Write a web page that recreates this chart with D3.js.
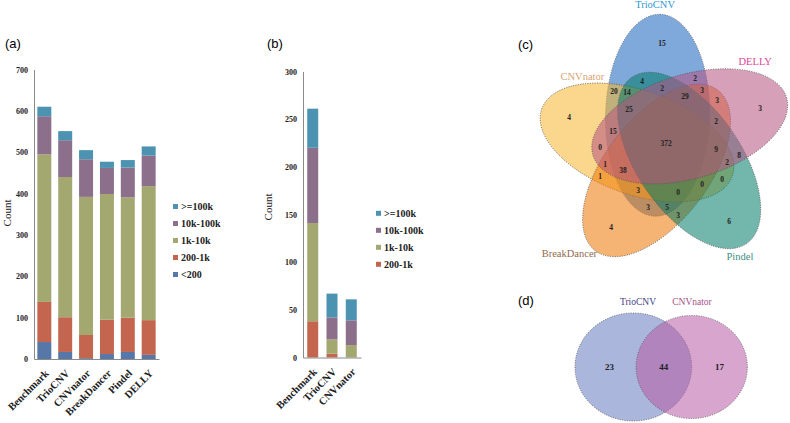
<!DOCTYPE html>
<html>
<head>
<meta charset="utf-8">
<script src="https://cdn.jsdelivr.net/npm/d3@7"></script>
<style>
  body { margin: 0; background: #fff; }
  svg text { font-family: "Liberation Serif", "Times New Roman", serif; }
  .plabel { font-family: "Liberation Sans", Arial, sans-serif; font-size: 13px; }
</style>
</head>
<body>
<svg id="chart" width="790" height="423"></svg>
<script>
// ---------- data: panel (a) ----------
const toolsA = ['Benchmark', 'TrioCNV', 'CNVnator', 'BreakDancer', 'Pindel', 'DELLY'];
const lt200A     = [41, 17, 2, 12, 17, 10];
const s200to1kA  = [97, 84, 56, 83, 83, 84];
const s1kto10kA  = [357, 339, 334, 304, 291, 324];
const s10kto100kA = [92, 89, 91, 63, 72, 74];
const ge100kA    = [23, 22, 22, 15, 18, 22];

// ---------- data: panel (b) ----------
const toolsB = ['Benchmark', 'TrioCNV', 'CNVnator'];
const s200to1kB  = [38, 4, 0];
const s1kto10kB  = [103, 15, 13];
const s10kto100kB = [79, 23, 26];
const ge100kB    = [41, 25, 22];

// ---------- data: panel (c), five-set Venn ----------
const vennSets5 = ['TrioCNV', 'DELLY', 'Pindel', 'BreakDancer', 'CNVnator'];
const vennRegions5 = [
  'TrioCNV', 'DELLY', 'Pindel', 'BreakDancer', 'CNVnator',
  'TrioCNV&DELLY', 'TrioCNV&Pindel', 'TrioCNV&BreakDancer', 'TrioCNV&CNVnator',
  'DELLY&Pindel', 'DELLY&BreakDancer', 'DELLY&CNVnator',
  'Pindel&BreakDancer', 'Pindel&CNVnator', 'BreakDancer&CNVnator',
  'TrioCNV&DELLY&Pindel', 'TrioCNV&DELLY&BreakDancer', 'TrioCNV&DELLY&CNVnator',
  'TrioCNV&Pindel&BreakDancer', 'TrioCNV&Pindel&CNVnator', 'TrioCNV&BreakDancer&CNVnator',
  'DELLY&Pindel&BreakDancer', 'DELLY&Pindel&CNVnator', 'DELLY&BreakDancer&CNVnator',
  'Pindel&BreakDancer&CNVnator',
  'TrioCNV&DELLY&Pindel&BreakDancer', 'TrioCNV&DELLY&Pindel&CNVnator',
  'TrioCNV&DELLY&BreakDancer&CNVnator', 'TrioCNV&Pindel&BreakDancer&CNVnator',
  'DELLY&Pindel&BreakDancer&CNVnator',
  'TrioCNV&DELLY&Pindel&BreakDancer&CNVnator'
];
const vennCounts5 = [
  15, 3, 6, 4, 4,
  2, 4, 3, 20,
  8, 3, 0,
  3, 0, 1,
  2, 3, 15,
  5, 14, 3,
  2, 2, 1,
  0,
  29, 25,
  38, 0,
  9,
  372
];

// ---------- data: panel (d), two-set Venn ----------
const vennSets2 = ['TrioCNV', 'CNVnator'];
const vennCounts2 = [23, 44, 17];   // TrioCNV only, both, CNVnator only

// ---------- styles ----------
const barColors = {
  '<200': '#5677a7', '200-1k': '#c4664f', '1k-10k': '#a3a770',
  '10k-100k': '#8b6f8b', '>=100k': '#4b93b1'
};
const SERIF = '"Liberation Serif", "Times New Roman", serif';

const svg = d3.select('#chart');

function stackedPanel(cfg) {
  const rows = cfg.tools.map((t, i) => {
    const r = { tool: t };
    cfg.keys.forEach((k, j) => { r[k] = cfg.series[j][i]; });
    return r;
  });
  const layers = d3.stack().keys(cfg.keys)(rows);

  const x = d3.scaleBand().domain(cfg.tools).range([cfg.x0, cfg.x1])
    .paddingInner(cfg.padIn).paddingOuter(cfg.padOut);
  const y = d3.scaleLinear().domain([0, cfg.yMax]).range([cfg.yBot, cfg.yTop]);

  const g = svg.append('g');

  g.selectAll('g.layer').data(layers).join('g')
    .attr('class', 'layer')
    .attr('fill', d => barColors[d.key])
    .selectAll('rect').data(d => d).join('rect')
    .attr('x', d => x(d.data.tool))
    .attr('width', x.bandwidth())
    .attr('y', d => y(d[1]))
    .attr('height', d => y(d[0]) - y(d[1]));

  // y axis
  const ya = g.append('g')
    .attr('transform', `translate(${cfg.x0},0)`)
    .call(d3.axisLeft(y).tickValues(d3.range(0, cfg.yMax + 1, cfg.yStep)).tickSize(0).tickPadding(6));
  ya.select('.domain').attr('stroke', '#8a8a8a');
  ya.selectAll('text')
    .attr('font-family', SERIF).attr('font-size', 8).attr('font-weight', 'bold').attr('fill', '#222');

  // x axis
  const xa = g.append('g')
    .attr('transform', `translate(0,${cfg.yBot})`)
    .call(d3.axisBottom(x).tickSize(0));
  xa.select('.domain').attr('stroke', '#8a8a8a');
  xa.selectAll('text')
    .attr('x', 0).attr('y', 0).attr('dy', 0)
    .attr('text-anchor', 'end')
    .attr('transform', 'translate(5,15) rotate(-45)')
    .attr('font-family', SERIF).attr('font-size', 10.5).attr('font-weight', 'bold').attr('fill', '#222');

  // axis title
  g.append('text')
    .attr('transform', `translate(${cfg.titleX},${cfg.titleY}) rotate(-90)`)
    .attr('text-anchor', 'middle')
    .attr('font-size', 11).attr('fill', '#222')
    .text('Count');

  // legend (top item = top of stack)
  const legendKeys = cfg.keys.slice().reverse();
  const item = g.append('g').selectAll('g').data(legendKeys).join('g')
    .attr('transform', (d, i) => `translate(${cfg.legendX},${cfg.legendY + i * 17})`);
  item.append('rect').attr('x', 0).attr('y', -2.5).attr('width', 5).attr('height', 5)
    .attr('fill', d => barColors[d]);
  item.append('text').attr('x', 8).attr('y', 0).attr('dy', '0.35em')
    .attr('font-size', 10).attr('font-weight', 'bold').attr('fill', '#222')
    .text(d => d);

  svg.append('text').attr('class', 'plabel').attr('x', cfg.labelX).attr('y', 48).text(cfg.label);
}

stackedPanel({
  label: '(a)', labelX: 5,
  tools: toolsA,
  keys: ['<200', '200-1k', '1k-10k', '10k-100k', '>=100k'],
  series: [lt200A, s200to1kA, s1kto10kA, s10kto100kA, ge100kA],
  x0: 34, x1: 159, padIn: 0.33, padOut: 0.16,
  yTop: 69.5, yBot: 359, yMax: 700, yStep: 100,
  titleX: 10.5, titleY: 213, legendX: 173, legendY: 206.5
});

stackedPanel({
  label: '(b)', labelX: 267,
  tools: toolsB,
  keys: ['200-1k', '1k-10k', '10k-100k', '>=100k'],
  series: [s200to1kB, s1kto10kB, s10kto100kB, ge100kB],
  x0: 303, x1: 361, padIn: 0.43, padOut: 0.22,
  yTop: 71.5, yBot: 357.5, yMax: 300, yStep: 50,
  titleX: 272, titleY: 207, legendX: 376, legendY: 213.3
});

// ---------- panel (c): five ellipses ----------
const v5 = { cx: 666, cy: 143, dist: 29, a: 101, b: 52, angle0: -107, tilt: 18.4 };
const v5Fill = { TrioCNV: '#1560bd', DELLY: '#b75280', Pindel: '#007a66', BreakDancer: '#ed7600', CNVnator: '#f6b62e' };
const v5Text = { TrioCNV: '#2f98d2', DELLY: '#e0449a', Pindel: '#3a8f85', BreakDancer: '#946a4c', CNVnator: '#d4a574' };
const v5Cat = { TrioCNV: [355.5, 139], DELLY: [47.5, 121], Pindel: [146.8, 135], BreakDancer: [221.1, 147], CNVnator: [308.6, 107] };
const v5DrawOrder = ['TrioCNV', 'CNVnator', 'BreakDancer', 'Pindel', 'DELLY'];

const ells = vennSets5.map((name, k) => {
  const th = (v5.angle0 + 72 * k) * Math.PI / 180;
  const phi = th + v5.tilt * Math.PI / 180;
  return {
    name, k, a: v5.a, b: v5.b, phi,
    cx: v5.cx + v5.dist * Math.cos(th), cy: v5.cy + v5.dist * Math.sin(th),
    c: Math.cos(phi), s: Math.sin(phi)
  };
});

const gc = svg.append('g');
gc.selectAll('ellipse')
  .data(ells.slice().sort((p, q) => v5DrawOrder.indexOf(p.name) - v5DrawOrder.indexOf(q.name)))
  .join('ellipse')
  .attr('cx', d => d.cx).attr('cy', d => d.cy)
  .attr('rx', d => d.a).attr('ry', d => d.b)
  .attr('transform', d => `rotate(${d.phi * 180 / Math.PI},${d.cx},${d.cy})`)
  .attr('fill', d => v5Fill[d.name]).attr('fill-opacity', 0.55)
  .attr('stroke', '#555').attr('stroke-width', 0.8).attr('stroke-dasharray', '1,1.4');

// find the most interior point of every region
const best = new Map();
for (let py = 0; py <= 330; py += 1) {
  for (let px = 505; px <= 790; px += 1) {
    let mask = 0, dmin = Infinity;
    for (const e of ells) {
      const dx = px - e.cx, dy = py - e.cy;
      const u = dx * e.c + dy * e.s, v = -dx * e.s + dy * e.c;
      const g = u * u / (e.a * e.a) + v * v / (e.b * e.b);
      if (g <= 1) mask |= 1 << e.k;
      const h = Math.sqrt(g);
      const gx = 2 * u / (e.a * e.a), gy = 2 * v / (e.b * e.b);
      const grad = Math.hypot(gx, gy) / (2 * Math.max(h, 1e-6));
      const d = Math.abs(h - 1) / Math.max(grad, 1e-9);
      if (d < dmin) dmin = d;
    }
    if (!mask) continue;
    const cur = best.get(mask);
    if (!cur || dmin > cur.d) best.set(mask, { x: px, y: py, d: dmin });
  }
}
const regionData = vennRegions5.map((r, i) => {
  const mask = r.split('&').reduce((m, s) => m | (1 << vennSets5.indexOf(s)), 0);
  return { mask, n: vennCounts5[i], p: best.get(mask) };
});
gc.selectAll('text.num').data(regionData).join('text')
  .attr('class', 'num')
  .attr('x', d => d.p.x).attr('y', d => d.p.y).attr('dy', '0.35em')
  .attr('text-anchor', 'middle')
  .attr('font-size', 7.5).attr('font-weight', 'bold').attr('fill', '#222')
  .text(d => d.n);

gc.selectAll('text.cat').data(vennSets5).join('text')
  .attr('class', 'cat')
  .attr('x', d => v5.cx + v5Cat[d][1] * Math.sin(v5Cat[d][0] * Math.PI / 180))
  .attr('y', d => v5.cy - v5Cat[d][1] * Math.cos(v5Cat[d][0] * Math.PI / 180))
  .attr('dy', '0.35em').attr('text-anchor', 'middle')
  .attr('font-size', 10.5).attr('fill', d => v5Text[d])
  .text(d => d);

svg.append('text').attr('class', 'plabel').attr('x', 518).attr('y', 49).text('(c)');

// ---------- panel (d): two circles ----------
const v2 = { cy: 367, leftEdge: 575, gap: 58.4, stretch: 1.08 };
const totals2 = [vennCounts2[0] + vennCounts2[1], vennCounts2[1] + vennCounts2[2]];
const rScale = d3.scaleSqrt().domain([0, totals2[0]]).range([0, 54]);
const circ = totals2.map((n, i) => ({ name: vennSets2[i], ry: rScale(n), rx: rScale(n) * v2.stretch }));
circ[0].cx = v2.leftEdge + circ[0].rx;
circ[1].cx = circ[0].cx + v2.gap;
const v2Fill = ['#647abf', '#b65ba4'];
const v2Text = ['#3f4184', '#a65288'];

const gd = svg.append('g');
gd.selectAll('ellipse').data(circ).join('ellipse')
  .attr('cx', d => d.cx).attr('cy', v2.cy)
  .attr('rx', d => d.rx).attr('ry', d => d.ry)
  .attr('fill', (d, i) => v2Fill[i]).attr('fill-opacity', 0.55)
  .attr('stroke', '#555').attr('stroke-width', 0.8).attr('stroke-dasharray', '1,1.4');

const lEdge0 = circ[0].cx - circ[0].rx, rEdge0 = circ[0].cx + circ[0].rx;
const lEdge1 = circ[1].cx - circ[1].rx, rEdge1 = circ[1].cx + circ[1].rx;
const numPos2 = [(lEdge0 + lEdge1) / 2 + 4, (lEdge1 + rEdge0) / 2, (rEdge0 + rEdge1) / 2];
gd.selectAll('text.num').data(vennCounts2).join('text')
  .attr('class', 'num')
  .attr('x', (d, i) => numPos2[i]).attr('y', v2.cy).attr('dy', '0.35em')
  .attr('text-anchor', 'middle')
  .attr('font-size', 9).attr('font-weight', 'bold').attr('fill', '#222')
  .text(d => d);

gd.selectAll('text.cat').data(circ).join('text')
  .attr('class', 'cat')
  .attr('x', (d, i) => i === 0 ? 638 : 692).attr('y', 305)
  .attr('text-anchor', 'middle')
  .attr('font-size', 9.5).attr('fill', (d, i) => v2Text[i])
  .text(d => d.name);

svg.append('text').attr('class', 'plabel').attr('x', 518).attr('y', 305).text('(d)');
</script>
</body>
</html>
